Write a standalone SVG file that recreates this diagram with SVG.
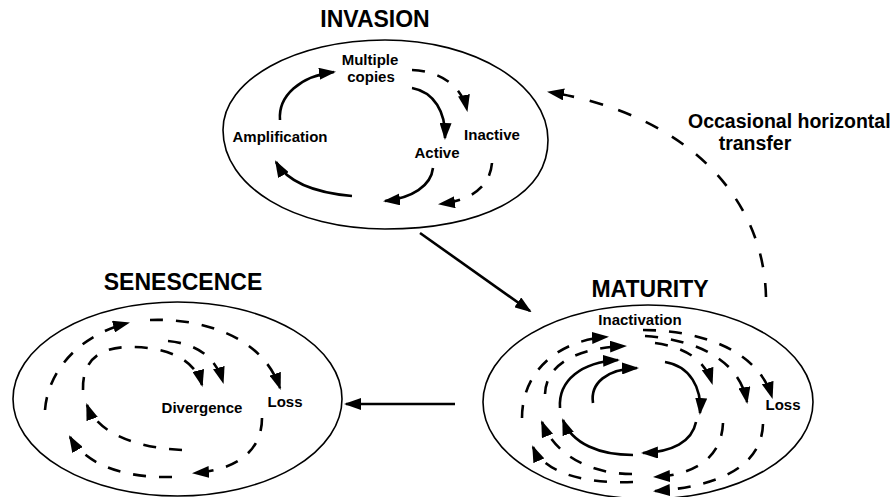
<svg xmlns="http://www.w3.org/2000/svg" width="892" height="497" viewBox="0 0 892 497">
<defs>
<marker id="ah" viewBox="0 0 17 12" refX="15" refY="6" markerWidth="17" markerHeight="12" markerUnits="userSpaceOnUse" orient="auto"><path d="M0,0 L17,6 L0,12 z" fill="#000"/></marker>
<style>
.stage{fill:none;stroke:#000;stroke-width:1.6}
.s{fill:none;stroke:#000;stroke-width:2.6;marker-end:url(#ah)}
.d{fill:none;stroke:#000;stroke-width:2.6;stroke-dasharray:13 13;marker-end:url(#ah)}
.t{font-family:"Liberation Sans",Arial,sans-serif;font-weight:bold;fill:#000}
.title{font-size:23px;text-anchor:middle}
.lab{font-size:15px;text-anchor:middle}
</style>
</defs>
<rect width="892" height="497" fill="#fff"/>

<g id="invasion">
<path class="stage" d="M223,130 C223,80 295,40 385,40 C475,40 548,85 548,140 C548,198 478,229 385,229 C295,229 223,187 223,130 Z"/>
<text class="t title" x="375" y="27">INVASION</text>
<text class="t lab" x="370" y="65" font-size="14.5">Multiple</text>
<text class="t lab" x="371" y="82" font-size="14.5">copies</text>
<text class="t lab" x="280" y="142">Amplification</text>
<text class="t lab" x="492" y="140">Inactive</text>
<text class="t lab" x="437" y="158">Active</text>
<path class="s" d="M280,120 C278,96 300,76 334,72"/>
<path class="s" d="M412,88 C434,92 446,112 445,138"/>
<path class="s" d="M433,168 C431,186 412,198 385,201"/>
<path class="s" d="M352,196 C318,193 288,183 276,162"/>
<path class="d" d="M412,70 C440,71 462,86 467,110"/>
<path class="d" d="M492,163 C490,185 474,200 440,204"/>
</g>

<g id="senescence">
<ellipse class="stage" cx="177.5" cy="399" rx="164.5" ry="97"/>
<text class="t title" x="183" y="290">SENESCENCE</text>
<text class="t lab" x="202" y="413">Divergence</text>
<text class="t lab" x="285" y="407">Loss</text>
<path class="d" d="M45,410 C48,370 80,335 128,323"/>
<path class="d" d="M150,320 C200,318 262,335 280,388"/>
<path class="d" d="M262,418 C262,450 238,470 194,473"/>
<path class="d" d="M172,477 C130,478 88,468 70,437"/>
<path class="d" d="M83,390 C82,360 100,347 130,347 C165,347 195,358 202,385"/>
<path class="d" d="M168,341 C198,344 216,358 223,382"/>
<path class="d" d="M182,450 C140,448 98,435 87,405"/>
</g>

<g id="maturity">
<ellipse class="stage" cx="648" cy="402" rx="165" ry="97"/>
<text class="t title" x="650" y="297">MATURITY</text>
<text class="t lab" x="640" y="325">Inactivation</text>
<text class="t lab" x="783" y="410">Loss</text>
<path class="s" d="M593,403 C590,383 607,369 637,368"/>
<path class="s" d="M560,408 C558,380 582,362 618,360"/>
<path class="s" d="M665,362 C690,366 702,388 700,413"/>
<path class="s" d="M696,422 C692,442 672,452 643,453"/>
<path class="s" d="M633,455 C600,455 572,444 563,420"/>
<path class="d" d="M522,418 C522,370 560,340 607,337"/>
<path class="d" d="M545,394 C546,365 575,348 625,346"/>
<path class="d" d="M643,330 C700,330 758,350 772,397"/>
<path class="d" d="M645,336 C700,340 740,362 747,402"/>
<path class="d" d="M655,343 C685,347 705,360 712,383"/>
<path class="d" d="M763,424 C762,460 730,486 655,491"/>
<path class="d" d="M723,423 C722,450 705,474 655,477"/>
<path class="d" d="M632,474 C590,474 555,455 542,422"/>
<path class="d" d="M633,482 C590,484 545,475 533,447"/>
</g>

<g id="transfer-label">
<text class="t" x="688" y="128" font-size="19.5">Occasional horizontal</text>
<text class="t" x="755" y="150" font-size="19.5" text-anchor="middle">transfer</text>
</g>

<g id="connectors">
<path class="s" d="M420,233 L530,311"/>
<path class="s" d="M455,404 L346,404"/>
<path class="d" style="stroke-dasharray:14 16" d="M766,297 C764,200 690,115 549,92"/>
</g>
</svg>
